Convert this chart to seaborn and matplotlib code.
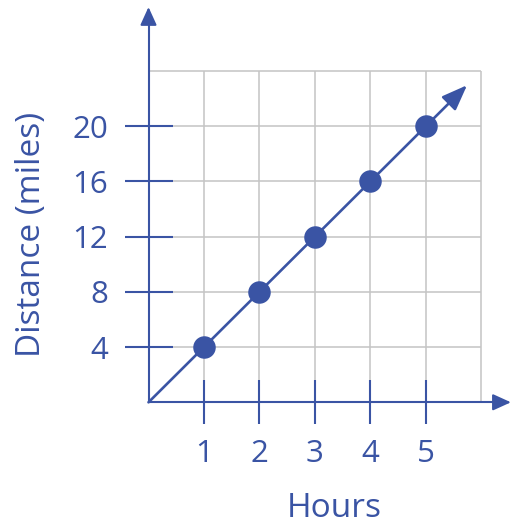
#!/usr/bin/env python3
# Distance vs hours - constant speed line graph

import pandas as pd
import matplotlib
matplotlib.use('Agg')
import matplotlib.pyplot as plt
import seaborn as sns

# Data
hours = [1, 2, 3, 4, 5]
distance = [4, 8, 12, 16, 20]
x_ticks = [1, 2, 3, 4, 5]
y_ticks = [4, 8, 12, 16, 20]
x_grid = [1, 2, 3, 4, 5, 6]
y_grid = [4, 8, 12, 16, 20, 24]

blue = '#3a54a4'
grid_gray = '#c4c4c4'

sns.set_style('white')
plt.rcParams['font.family'] = ['Open Sans', 'DejaVu Sans']

points = pd.DataFrame({'hours': hours, 'distance': distance})
line = pd.DataFrame({'hours': [0] + hours, 'distance': [0] + distance})

fig = plt.figure(figsize=(5.15, 5.27), dpi=100)
ax = fig.add_axes([0, 0, 1, 1])
ax.set_xlim(-2.676, 6.604)
ax.set_ylim(-9.03, 29.13)
ax.set_axisbelow(False)

# grid
ax.vlines(x_grid, 0, max(y_grid), color=grid_gray, lw=1.1, zorder=1)
ax.hlines(y_grid, 0, max(x_grid), color=grid_gray, lw=1.1, zorder=1)

# axes through the origin
for side in ['top', 'right']:
    ax.spines[side].set_visible(False)
ax.spines['left'].set_position(('data', 0))
ax.spines['bottom'].set_position(('data', 0))
ax.spines['left'].set_bounds(0, 28)
ax.spines['bottom'].set_bounds(0, 6.3)
for side in ['left', 'bottom']:
    ax.spines[side].set_color(blue)
    ax.spines[side].set_linewidth(1.5)
    ax.spines[side].set_zorder(3)

ax.set_xticks(x_ticks)
ax.set_yticks(y_ticks)
ax.tick_params(axis='x', bottom=True, direction='inout', length=31, width=1.5,
               color=blue, labelcolor=blue, labelsize=22.5, pad=11)
ax.tick_params(axis='y', left=True, direction='inout', length=34, width=1.5,
               color=blue, labelcolor=blue, labelsize=22.5, pad=12)

# axis arrowheads
ax.annotate('', xy=(0, 28.62), xytext=(0, 27.5),
            arrowprops=dict(arrowstyle='-|>,head_length=1.1,head_width=0.5',
                            color=blue, lw=1.5, mutation_scale=10,
                            shrinkA=0, shrinkB=0), zorder=4)
ax.annotate('', xy=(6.53, 0), xytext=(6.2, 0),
            arrowprops=dict(arrowstyle='-|>,head_length=1.1,head_width=0.5',
                            color=blue, lw=1.5, mutation_scale=10,
                            shrinkA=0, shrinkB=0), zorder=4)

# line and points
sns.lineplot(data=line, x='hours', y='distance', color=blue, lw=1.9,
             ax=ax, zorder=4)
ax.annotate('', xy=(5.74, 22.96), xytext=(5, 20),
            arrowprops=dict(arrowstyle='-|>,head_length=1.3,head_width=0.5',
                            color=blue, lw=1.9, mutation_scale=12,
                            shrinkA=0, shrinkB=0), zorder=4)
sns.scatterplot(data=points, x='hours', y='distance', s=225, color=blue,
                edgecolor=blue, ax=ax, zorder=5)

ax.set_xlabel('')
ax.set_ylabel('')
fig.text(0.650, 0.036, 'Hours', color=blue, fontsize=24,
         ha='center', va='center')
fig.text(0.062, 0.556, 'Distance (miles)', color=blue, fontsize=24,
         ha='center', va='center', rotation=90)

plt.savefig('out.png', dpi=100)
